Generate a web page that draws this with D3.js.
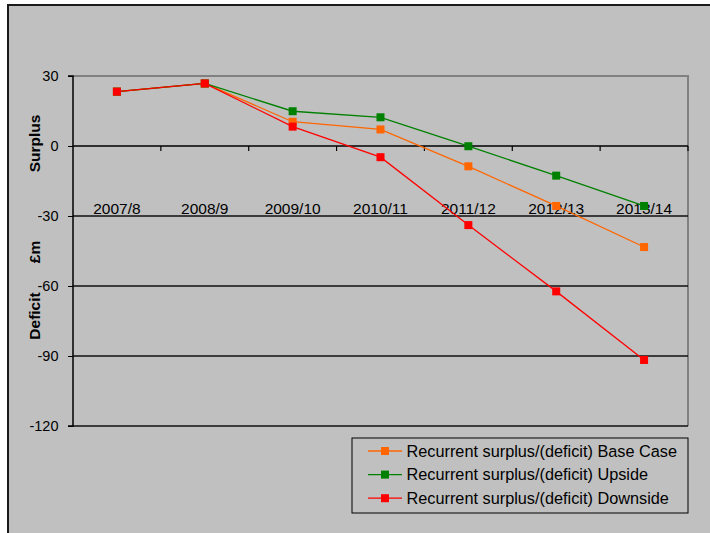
<!DOCTYPE html>
<html>
<head>
<meta charset="utf-8">
<script src="https://cdn.jsdelivr.net/npm/d3@7"></script>
<style>
  html, body { margin: 0; padding: 0; background: #ffffff; }
  svg { display: block; }
  text { font-family: "Liberation Sans", Arial, sans-serif; fill: #000; }
</style>
</head>
<body>
<svg id="chart" width="710" height="533"></svg>
<script>
// Financial years on the category axis
const years = ["2007/8", "2008/9", "2009/10", "2010/11", "2011/12", "2012/13", "2013/14"];

// Recurrent surplus/(deficit), £m
const baseCase = [23.3, 26.8, 10.4, 7.1, -8.7, -25.7, -43.3];
const upside   = [23.3, 26.8, 14.9, 12.3, -0.1, -12.7, -25.7];
const downside = [23.3, 26.8, 8.3, -4.8, -33.9, -62.3, -91.7];

const yTicks = [30, 0, -30, -60, -90, -120];

const seriesNames = [
  "Recurrent surplus/(deficit) Base Case",
  "Recurrent surplus/(deficit) Upside",
  "Recurrent surplus/(deficit) Downside"
];
const seriesColors = ["#ff6600", "#008000", "#ff0000"];
const seriesValues = [baseCase, upside, downside];

const svg = d3.select("#chart");

// Chart background panel with frame
svg.append("rect")
  .attr("x", 8).attr("y", 5).attr("width", 720).attr("height", 540)
  .attr("fill", "#c0c0c0").attr("stroke", "#1a1a1a").attr("stroke-width", 2);

const plot = { left: 73, right: 688, top: 76, bottom: 426 };

const x = d3.scaleBand().domain(years).range([plot.left, plot.right]).padding(0);
const y = d3.scaleLinear().domain([-120, 30]).range([plot.bottom, plot.top]);

// Plot area border (top/right grey)
svg.append("path")
  .attr("d", `M${plot.left},${plot.top}H${plot.right}V${plot.bottom}`)
  .attr("fill", "none").attr("stroke", "#808080").attr("stroke-width", 2);

// Horizontal gridlines below zero
svg.append("g").selectAll("line")
  .data(yTicks.filter(v => v < 0))
  .join("line")
  .attr("x1", plot.left).attr("x2", plot.right)
  .attr("y1", d => y(d)).attr("y2", d => y(d))
  .attr("stroke", "#111").attr("stroke-width", 1.5);

// Value axis (plain hyphen for negatives)
const yAxis = d3.axisLeft(y).tickValues(yTicks).tickSize(5).tickPadding(9.5).tickFormat(d => String(d));
const gy = svg.append("g").attr("transform", `translate(${plot.left},0)`).call(yAxis);
gy.select(".domain").attr("stroke", "#000").attr("stroke-width", 1.5).attr("d", `M-5,${y(30)}H0V${y(-120)}H-5`);
gy.selectAll(".tick line").attr("stroke", "#000");
gy.selectAll(".tick text").attr("font-size", 14.5).attr("font-family", "Liberation Sans, Arial, sans-serif").attr("fill", "#000");

// Category axis at zero with tick marks between categories
const gx = svg.append("g").attr("transform", `translate(0,${y(0)})`);
gx.append("line").attr("x1", plot.left).attr("x2", plot.right).attr("y1", 0).attr("y2", 0)
  .attr("stroke", "#000").attr("stroke-width", 1.5);
gx.selectAll("line.tk")
  .data(years)
  .join("line").attr("class", "tk")
  .attr("x1", d => x(d) + x.bandwidth())
  .attr("x2", d => x(d) + x.bandwidth())
  .attr("y1", 0).attr("y2", 5)
  .attr("stroke", "#000").attr("stroke-width", 1.2);

// Category labels sit low, just above the -30 gridline
svg.append("g").selectAll("text")
  .data(years)
  .join("text")
  .attr("x", d => x(d) + x.bandwidth() / 2)
  .attr("y", y(-30) - 2)
  .attr("text-anchor", "middle")
  .attr("font-size", 15.5)
  .text(d => d);

// Series lines and square markers
const line = d3.line()
  .x((d, i) => x(years[i]) + x.bandwidth() / 2)
  .y(d => y(d));

seriesValues.forEach((vals, s) => {
  const g = svg.append("g");
  g.append("path").attr("d", line(vals))
    .attr("fill", "none").attr("stroke", seriesColors[s]).attr("stroke-width", 1.3);
  g.selectAll("rect").data(vals).join("rect")
    .attr("x", (d, i) => x(years[i]) + x.bandwidth() / 2 - 4)
    .attr("y", d => y(d) - 4)
    .attr("width", 8).attr("height", 8)
    .attr("fill", seriesColors[s]);
});

// Axis titles
const titles = [
  { t: "Surplus", cy: 143.5 },
  { t: "£m", cy: 252 },
  { t: "Deficit", cy: 316 }
];
svg.append("g").selectAll("text").data(titles).join("text")
  .attr("transform", d => `translate(40,${d.cy}) rotate(-90)`)
  .attr("text-anchor", "middle")
  .attr("font-size", 15.5).attr("font-weight", "bold")
  .text(d => d.t);

// Legend
const lg = svg.append("g");
lg.append("rect").attr("x", 352).attr("y", 438).attr("width", 336).attr("height", 75)
  .attr("fill", "#c0c0c0").attr("stroke", "#000").attr("stroke-width", 1);
seriesNames.forEach((name, i) => {
  const cy = 451 + i * 23.6;
  lg.append("line").attr("x1", 368).attr("x2", 402).attr("y1", cy).attr("y2", cy)
    .attr("stroke", seriesColors[i]).attr("stroke-width", 1.3);
  lg.append("rect").attr("x", 381).attr("y", cy - 4).attr("width", 8).attr("height", 8)
    .attr("fill", seriesColors[i]);
  lg.append("text").attr("x", 406.5).attr("y", cy + 5.5).attr("font-size", 16.3).text(name);
});
</script>
</body>
</html>
